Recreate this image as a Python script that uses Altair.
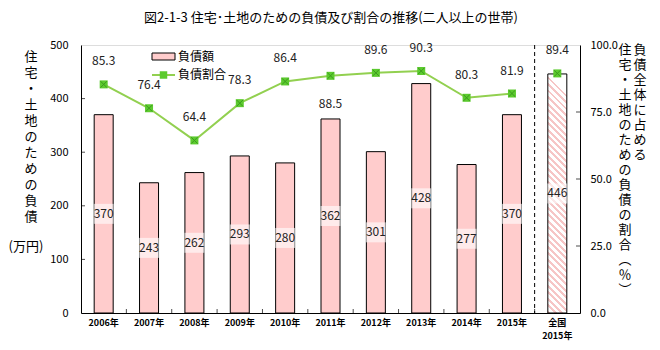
import math
import altair as alt
import pandas as pd

# ---------------- data ----------------
categories = ["2006年", "2007年", "2008年", "2009年", "2010年", "2011年",
              "2012年", "2013年", "2014年", "2015年", "全国2015年"]
kinds = ["year"] * 10 + ["national"]
debt = [370, 243, 262, 293, 280, 362, 301, 428, 277, 370, 446]
ratio = [85.3, 76.4, 64.4, 78.3, 86.4, 88.5, 89.6, 90.3, 80.3, 81.9, 89.4]
left_ticks = [0, 100, 200, 300, 400, 500]
right_ticks = [0, 25, 50, 75, 100]
legend_names = ["負債額", "負債割合"]
title_text = "図2-1-3 住宅･土地のための負債及び割合の推移(二人以上の世帯)"
left_title = list("住宅・土地のための負債")
left_unit = "(万円)"
right_col_a = list("住宅・土地のための負債の割合") + ["︵", "％", "︶"]
right_col_b = list("負債全体に占める")

df = pd.DataFrame({"cat": categories, "kind": kinds, "debt": debt, "ratio": ratio})

# ---------------- layout / style ----------------
W, H = 499, 268
FONT = "Noto Sans CJK JP"
PINK = "#FFCCCC"
STRIPE = "#F6C6C6"
GREEN_LINE = "#92D050"
GREEN_MARK = "#5CCB2E"
BAR_W = 19

# hatched gradient fill for the nationwide bar (diagonal stripes)
LMAX = 500
h_nat = debt[-1] / LMAX * H
a = BAR_W / h_nat
period = 4.6
dt = period * math.sqrt(2) / (h_nat * (1 + a * a))
stops = []
t = 0.0
while t < 1.0:
    t1 = min(t + 0.45 * dt, 1.0)
    t2 = min(t + dt, 1.0)
    stops += [{"offset": t, "color": STRIPE}, {"offset": t1, "color": STRIPE},
              {"offset": t1, "color": "#FFFFFF"}, {"offset": t2, "color": "#FFFFFF"}]
    t += dt
hatch = {"gradient": "linear", "x1": 0, "y1": 1, "x2": a, "y2": 0, "stops": stops}

x_axis = alt.Axis(title=None, labelAngle=0, labelFontSize=9, labelFontWeight="bold",
                  labelColor="#000", labelPadding=5, tickSize=0, domainColor="#000",
                  labelFont=FONT, labelLineHeight=13,
                  labelExpr="datum.value == '全国2015年' ? ['全国', '2015年'] : datum.value")
x_scale = alt.Scale(paddingInner=0, paddingOuter=0)


def X(**kw):
    return alt.X("cat:N", sort=categories, axis=x_axis, scale=x_scale, **kw)


left_scale = alt.Scale(domain=[0, 500], nice=False)
left_axis = alt.Axis(title=None, values=left_ticks, tickSize=0, labelPadding=13,
                     labelFontSize=11, labelFont=FONT, labelColor="#000", grid=False,
                     domainColor="#000")
right_scale = alt.Scale(domain=[0, 100], nice=False)
right_axis = alt.Axis(orient="right", title=None, values=right_ticks, format=".1f",
                      tickSize=0, labelPadding=10, labelFontSize=11, labelFont=FONT,
                      labelColor="#000", grid=False, domainColor="#000")


def YL(field):
    return alt.Y(field, scale=left_scale, axis=left_axis)


def YR(field):
    return alt.Y(field, scale=right_scale, axis=right_axis)


base = alt.Chart(df)
years = base.transform_filter("datum.kind == 'year'")
nat = base.transform_filter("datum.kind == 'national'")

bars = years.mark_bar(size=BAR_W, fill=PINK, stroke="#000", strokeWidth=1).encode(
    x=X(), y=YL("debt:Q"))
nat_bar = nat.mark_bar(size=BAR_W, fill=hatch, stroke="#000", strokeWidth=1).encode(
    x=X(), y=YL("debt:Q"))
boxes = base.transform_calculate(mid="datum.debt / 2").mark_square(
    size=400, color="white", opacity=0.6).encode(x=X(), y=YL("mid:Q"))
bar_text = base.transform_calculate(mid="datum.debt / 2").mark_text(
    fontSize=12, font=FONT, color="#222").encode(x=X(), y=YL("mid:Q"), text="debt:Q")
sep = nat.mark_rule(color="#000", strokeDash=[4, 3], strokeWidth=1).encode(x=X(bandPosition=0))

lt = alt.Chart(pd.DataFrame({"v": left_ticks[1:-1]})).mark_tick(
    orient="horizontal", size=4, thickness=1, color="#000").encode(
    y=YL("v:Q"), x=alt.value(2))
xt = base.transform_filter("datum.cat != '2006年'").mark_tick(
    orient="vertical", size=4, thickness=1, color="#000").encode(
    x=X(bandPosition=0), y=alt.value(H - 2))

left_group = alt.layer(bars, nat_bar, boxes, bar_text, sep, lt, xt)

line = years.mark_line(color=GREEN_LINE, strokeWidth=2).encode(x=X(), y=YR("ratio:Q"))
pts = base.mark_square(size=64, color=GREEN_MARK, opacity=1).encode(x=X(), y=YR("ratio:Q"))
crosses = base.mark_point(shape="M-1,-1L1,1M-1,1L1,-1", size=40, color="#3C9A1E",
                          strokeWidth=1, filled=False, opacity=1).encode(x=X(), y=YR("ratio:Q"))
lab_up = base.transform_filter("datum.cat != '2011年'").mark_text(
    dy=-23, fontSize=12, font=FONT, color="#222").encode(
    x=X(), y=YR("ratio:Q"), text=alt.Text("ratio:Q", format=".1f"))
lab_dn = base.transform_filter("datum.cat == '2011年'").mark_text(
    dy=28, fontSize=12, font=FONT, color="#222").encode(
    x=X(), y=YR("ratio:Q"), text=alt.Text("ratio:Q", format=".1f"))
rt = alt.Chart(pd.DataFrame({"v": right_ticks[1:-1]})).mark_tick(
    orient="horizontal", size=4, thickness=1, color="#000").encode(
    y=YR("v:Q"), x=alt.value(W - 2))

right_group = alt.layer(line, pts, crosses, lab_up, lab_dn, rt)

# ---- legend (manual) ----
leg_df = pd.DataFrame({"name": legend_names})
leg0 = alt.Chart(leg_df).transform_filter(f"datum.name == '{legend_names[0]}'")
leg1 = alt.Chart(leg_df).transform_filter(f"datum.name == '{legend_names[1]}'")
leg_rect = leg0.mark_rect(fill=PINK, stroke="#000", strokeWidth=1).encode(
    x=alt.value(71), x2=alt.value(94), y=alt.value(8), y2=alt.value(15))
leg_text0 = leg0.mark_text(align="left", baseline="middle", fontSize=12, font=FONT,
                           color="#000").encode(x=alt.value(97), y=alt.value(11.5), text="name:N")
leg_line = leg1.mark_rule(color=GREEN_LINE, strokeWidth=2).encode(
    x=alt.value(71), x2=alt.value(94), y=alt.value(30))
leg_mark = leg1.mark_square(size=56, color=GREEN_MARK, opacity=1).encode(
    x=alt.value(82.5), y=alt.value(30))
leg_text1 = leg1.mark_text(align="left", baseline="middle", fontSize=12, font=FONT,
                           color="#000").encode(x=alt.value(97), y=alt.value(30), text="name:N")

# ---- axis titles (vertical Japanese text) and chart title ----
one = alt.Chart(pd.DataFrame({"k": [0]}))
lt_title = one.mark_text(align="center", baseline="top", fontSize=13, font=FONT,
                         color="#000", lineHeight=16).encode(
    x=alt.value(-50), y=alt.value(6), text=alt.value(left_title))
lt_unit = one.mark_text(align="center", baseline="middle", fontSize=13, font=FONT,
                        color="#000").encode(
    x=alt.value(-55), y=alt.value(202), text=alt.value(left_unit))
rt_title_a = one.mark_text(align="center", baseline="top", fontSize=13, font=FONT,
                           color="#000", lineHeight=15).encode(
    x=alt.value(544), y=alt.value(-1), text=alt.value(right_col_a))
rt_title_b = one.mark_text(align="center", baseline="top", fontSize=13, font=FONT,
                           color="#000", lineHeight=15).encode(
    x=alt.value(559), y=alt.value(-1), text=alt.value(right_col_b))
main_title = one.mark_text(align="center", baseline="middle", fontSize=13, font=FONT,
                           color="#000").encode(
    x=alt.value(W / 2 + 0.5), y=alt.value(-27), text=alt.value(title_text))

legend_group = alt.layer(leg_rect, leg_text0, leg_line, leg_mark, leg_text1,
                         lt_title, lt_unit, rt_title_a, rt_title_b, main_title)

chart = alt.layer(left_group, right_group, legend_group).resolve_scale(
    y="independent"
).properties(
    width=W, height=H,
    padding={"left": 81, "top": 45, "right": 80, "bottom": 37},
    autosize="none",
).configure_view(stroke="#000", strokeWidth=1).configure(background="white")

chart.save("out.html", embed_options={"renderer": "svg", "actions": False})
